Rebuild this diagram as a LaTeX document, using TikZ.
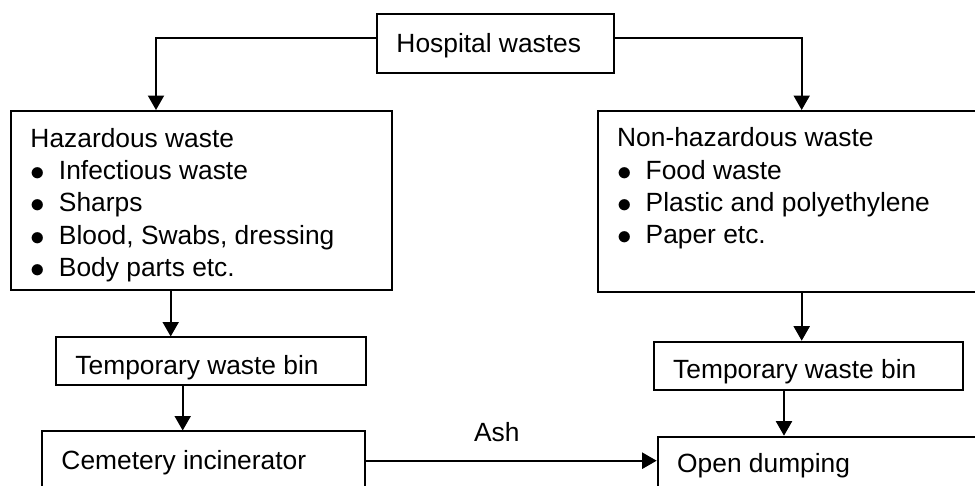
\documentclass[tikz,border=0pt]{standalone}
\usepackage{fontspec}
\setmainfont{Liberation Sans}
\usetikzlibrary{arrows.meta}
\tikzset{
  >={Triangle[length=0.29cm,width=0.32cm]},
  every picture/.style={line width=0.04cm},
  wfont/.style={font=\fontsize{15}{18.3}\selectfont},
  wbox/.style={draw, wfont, anchor=north west, inner xsep=0.39cm, inner ysep=0pt},
  arrow/.style={->},
  lbl/.style={wfont, inner sep=0pt, anchor=base}
}
\newcommand{\wItem}{\makebox[0.57cm][l]{\smash{\raisebox{-0.02cm}{\scalebox{1.15}{$\bullet$}}}}}
\newcommand{\wLines}[2]{\begin{tabular}[t]{@{}p{#1}@{}}#2\end{tabular}}

\begin{document}
\begin{tikzpicture}[x=0.02cm, y=-0.02cm]
  \useasboundingbox (0,0) rectangle (975,486);
  \clip (0,0) rectangle (975,486);

  % boxes (placed by top left corner, pixel units)
  \node[wbox, text height=0.768cm, text depth=0.40cm] (hosp) at (376,13.3)
    {\wLines{3.966cm}{Hospital wastes}};
  \node[wbox, text height=0.734cm, text depth=2.846cm] (haz) at (10,110)
    {\wLines{6.834cm}{Hazardous waste\\
      \wItem Infectious waste\\
      \wItem Sharps\\
      \wItem Blood, Swabs, dressing\\
      \wItem Body parts etc.}};
  \node[wbox, text height=0.72cm, text depth=2.90cm] (nonhaz) at (596.7,110)
    {\wLines{7.086cm}{Non-hazardous waste\\
      \wItem Food waste\\
      \wItem Plastic and polyethylene\\
      \wItem Paper etc.}};
  \node[wbox, text height=0.74cm, text depth=0.22cm] (binL) at (55,336.5)
    {\wLines{5.42cm}{Temporary waste bin}};
  \node[wbox, text height=0.746cm, text depth=0.22cm] (binR) at (652.7,340.7)
    {\wLines{5.40cm}{Temporary waste bin}};
  \node[wbox, text height=0.756cm, text depth=0.834cm] (incin) at (41,430.5)
    {\wLines{5.68cm}{Cemetery incinerator}};
  \node[wbox, text height=0.72cm, text depth=0.766cm] (dump) at (656.7,435.7)
    {\wLines{5.886cm}{Open dumping}};

  % connectors
  \draw[arrow] (hosp.west |- 0,37.7) -| (haz.north -| 156,0);
  \draw[arrow] (hosp.east |- 0,37.7) -| (nonhaz.north -| 801.7,0);
  \draw[arrow] (haz.south -| 170.7,0) -- (binL.north -| 170.7,0);
  \draw[arrow] (binL.south -| 182.7,0) -- (incin.north -| 182.7,0);
  \draw[arrow] (nonhaz.south -| 801.7,0) -- (binR.north -| 801.7,0);
  \draw[arrow] (binR.south -| 784,0) -- (dump.north -| 784,0);
  \draw[arrow] (incin.east |- 0,460.7) -- (dump.west |- 0,460.7)
    node[lbl, pos=0.45, yshift=0.38cm] (ash) {Ash};
\end{tikzpicture}
\end{document}
